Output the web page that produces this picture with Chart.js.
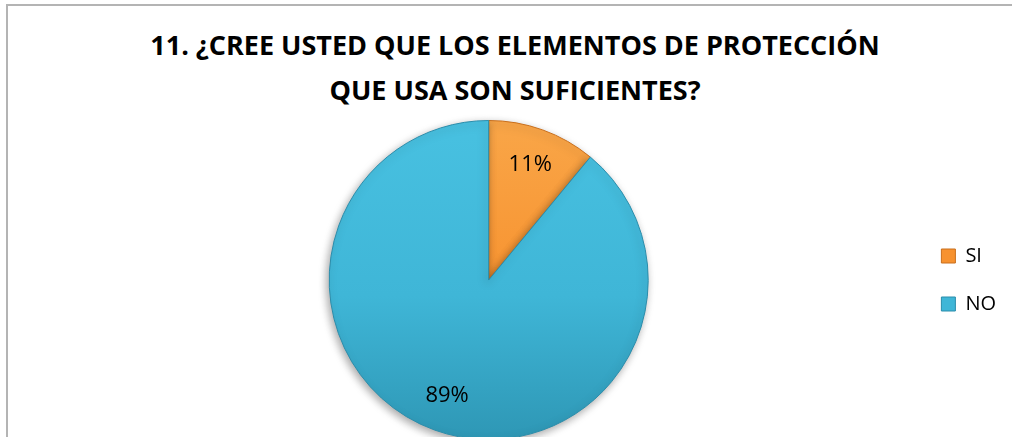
<!DOCTYPE html>
<html>
<head>
<meta charset="utf-8">
<script src="https://cdn.jsdelivr.net/npm/chart.js@4/dist/chart.umd.min.js"></script>
<style>
  html, body { margin: 0; padding: 0; background: #fff; }
  .wrap { position: relative; width: 1012px; height: 437px; overflow: hidden; background: #fff; }
  .frame { position: absolute; left: 6px; top: 4px; right: -10px; bottom: -10px;
           border-top: 2px solid #b4b4b4; border-left: 2px solid #b4b4b4; }
  .title { position: absolute; left: 18px; right: 0; top: 22px; text-align: center;
           font: bold 27px/45px "Open Sans", sans-serif; color: #000; }
  .box { position: absolute; left: 0; top: 0; width: 1012px; height: 440px; }
</style>
</head>
<body>
<div class="wrap">
  <div class="frame"></div>
  <div class="title" id="title"></div>
  <div class="box"><canvas id="pie"></canvas></div>
</div>
<script>
const titleLines = ['11. ¿CREE USTED QUE LOS ELEMENTOS DE PROTECCIÓN', 'QUE USA SON SUFICIENTES?'];
const answers = ['SI', 'NO'];
const percents = [11, 89];

// colours per answer: top of the pie, middle, bottom, edge
const topColors = ['#f9a648', '#48c1e1'];
const flatColors = ['#f7922f', '#3fb6d7'];
const bottomColors = ['#f08624', '#2e97b5'];
const edgeColors = ['#c96f1c', '#2b8dab'];

document.getElementById('title').innerHTML = titleLines.join('<br>');

function sliceFill(ctx) {
  const chart = ctx.chart;
  const area = chart.chartArea;
  if (!area) return flatColors[ctx.dataIndex];
  const i = ctx.dataIndex;
  const g = chart.ctx.createLinearGradient(0, area.top, 0, area.bottom);
  g.addColorStop(0, topColors[i]);
  g.addColorStop(0.55, flatColors[i]);
  g.addColorStop(1, bottomColors[i]);
  return g;
}

// soft drop shadow under the pie
const pieShadow = {
  id: 'pieShadow',
  beforeDatasetsDraw(chart) {
    const c = chart.ctx;
    c.save();
    c.shadowColor = 'rgba(0,0,0,0.35)';
    c.shadowBlur = 8;
    c.shadowOffsetX = -2;
    c.shadowOffsetY = 3;
  },
  afterDatasetsDraw(chart) {
    chart.ctx.restore();
  }
};

// percentage text inside each slice
const sliceLabels = {
  id: 'sliceLabels',
  afterDraw(chart) {
    const c = chart.ctx;
    const meta = chart.getDatasetMeta(0);
    const data = chart.data.datasets[0].data;
    const total = data.reduce((a, b) => a + b, 0);
    c.save();
    c.font = '22px "Open Sans"';
    c.fillStyle = '#000';
    c.textAlign = 'center';
    c.textBaseline = 'middle';
    meta.data.forEach((arc, i) => {
      const mid = (arc.startAngle + arc.endAngle) / 2;
      const r = arc.outerRadius * 0.77;
      const x = arc.x + Math.cos(mid) * r;
      const y = arc.y + Math.sin(mid) * r;
      c.fillText(Math.round(data[i] / total * 100) + '%', x, y);
    });
    c.restore();
  }
};

new Chart(document.getElementById('pie'), {
  type: 'pie',
  data: {
    labels: answers,
    datasets: [{
      data: percents,
      backgroundColor: sliceFill,
      borderColor: edgeColors,
      borderWidth: 1
    }]
  },
  options: {
    responsive: true,
    maintainAspectRatio: false,
    animation: false,
    layout: { padding: { top: 120, left: 64, right: 6, bottom: 0 } },
    plugins: {
      title: { display: false },
      legend: {
        position: 'right',
        labels: {
          boxWidth: 14,
          boxHeight: 14,
          padding: 28,
          color: '#000',
          font: { family: '"Open Sans"', size: 20 },
          generateLabels() {
            return answers.map((a, i) => ({
              text: a,
              fillStyle: flatColors[i],
              strokeStyle: edgeColors[i],
              lineWidth: 1,
              index: i,
              datasetIndex: 0
            }));
          }
        }
      },
      tooltip: { enabled: false }
    }
  },
  plugins: [pieShadow, sliceLabels]
});
</script>
</body>
</html>
